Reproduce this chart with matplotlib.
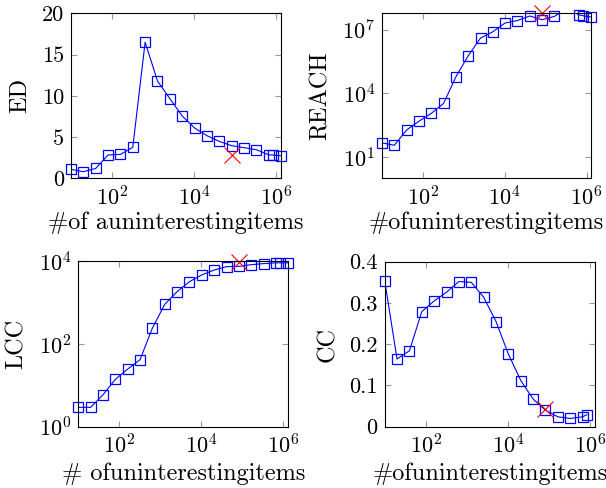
import matplotlib
matplotlib.use("Agg")
import matplotlib.pyplot as plt
from matplotlib.ticker import NullLocator, FixedLocator

plt.rcParams["font.family"] = ["cmr10", "DejaVu Serif"]
plt.rcParams["mathtext.fontset"] = "cm"
plt.rcParams["axes.formatter.use_mathtext"] = True

# 数据：x 为无关项数量
items = [10, 20, 40, 80, 160, 320, 640, 1280, 2560, 5120, 10240, 20480,
         40960, 81920, 163840, 327680, 655360, 830000, 1310720]
items_cc = items[:-1]

ed = [1.09, 0.8, 1.2, 2.83, 2.9, 3.76, 16.5, 11.8, 9.66, 7.56, 6.1, 5.17,
      4.48, 3.96, 3.72, 3.47, 2.85, 2.82, 2.74]
reach = [47, 36, 190, 490, 1150, 3400, 6.1e4, 6.0e5, 4.1e6, 8.1e6, 2.1e7, 2.75e7,
         4.5e7, 3.0e7, 4.3e7, 1.0e8, 5.1e7, 4.6e7, 4.0e7]
lcc = [2.94, 2.94, 5.9, 14, 24.8, 41.8, 244, 912, 1850, 3220, 4700, 6170,
       7430, 7560, 8300, 8800, 9200, 9200, 9200]
cc = [0.354, 0.164, 0.184, 0.279, 0.305, 0.326, 0.352, 0.35, 0.314, 0.255,
      0.176, 0.112, 0.067, 0.040, 0.024, 0.020, 0.024, 0.029]

# 红叉（选定点）
pick_x = 81920
pick_ed = 2.83
pick_reach = 5.9e7
pick_lcc = 9500
pick_cc = 0.042

BLUE = "#0000ff"
RED = "#ff0000"

fig = plt.figure(figsize=(6.06, 4.88), dpi=100)
fig.set_facecolor("white")

panels = [
    # rect, x, y, pick_y, ylabel, xlabel, ylog, ylim, yticks, ylabel_x, xlabel_y
    ([0.1172, 0.6346, 0.3465, 0.3381], items, ed, pick_ed, "ED",
     "#of auninterestingitems", False, (0, 20), [0, 5, 10, 15, 20], -0.243, -0.269),
    ([0.6304, 0.6346, 0.3454, 0.3381], items, reach, pick_reach, "REACH",
     "#ofuninterestingitems", True, (1, 6.0e7), [1e1, 1e4, 1e7], -0.291, -0.269),
    ([0.1292, 0.1256, 0.3465, 0.3389], items, lcc, pick_lcc, "LCC",
     "# ofuninterestingitems", True, (1, 1e4), [1e0, 1e2, 1e4], -0.293, -0.286),
    ([0.6348, 0.1256, 0.3470, 0.3381], items_cc, cc, pick_cc, "CC",
     "#ofuninterestingitems", False, (0, 0.4), [0, 0.1, 0.2, 0.3, 0.4], -0.27, -0.286),
]

for rect, xs, ys, py, ylab, xlab, ylog, ylim, yticks, ylx, xly in panels:
    ax = fig.add_axes(rect)
    ax.plot(xs, ys, color=BLUE, lw=0.8)
    # 标记不裁剪（只画落在 y 范围内的点）
    mx = [x for x, y in zip(xs, ys) if ylim[0] <= y <= ylim[1]]
    my = [y for y in ys if ylim[0] <= y <= ylim[1]]
    ax.plot(mx, my, ls="none", marker="s", ms=7.2, mfc="none", mec=BLUE,
            mew=0.9, clip_on=False)
    ax.plot([pick_x], [py], color=RED, marker="x", ms=11, mew=0.8,
            ls="none", clip_on=False)
    ax.set_xscale("log")
    ax.set_xlim(10, 1310720)
    ax.xaxis.set_major_locator(FixedLocator([1e2, 1e4, 1e6]))
    ax.xaxis.set_minor_locator(NullLocator())
    if ylog:
        ax.set_yscale("log")
        ax.yaxis.set_minor_locator(NullLocator())
    ax.set_ylim(*ylim)
    ax.yaxis.set_major_locator(FixedLocator(yticks))
    if not ylog:
        ax.set_yticklabels([f"{t:g}" for t in yticks])
    ax.tick_params(which="both", direction="in", top=True, right=True,
                   length=4, width=0.8, color="#999999",
                   labelsize=16, labelcolor="black", pad=5)
    for s in ax.spines.values():
        s.set_linewidth(0.8)
    ax.set_ylabel(ylab, fontsize=17.5)
    ax.set_xlabel(xlab, fontsize=17.5)
    ax.yaxis.set_label_coords(ylx, 0.5)
    ax.yaxis.label.set_verticalalignment("center")
    ax.xaxis.set_label_coords(0.5, xly)
    ax.xaxis.label.set_verticalalignment("center")

fig.savefig("out.png", dpi=100, facecolor="white")
